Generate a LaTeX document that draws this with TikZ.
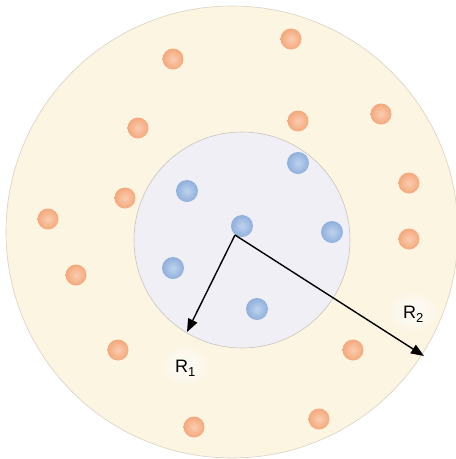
\documentclass[tikz,border=0pt]{standalone}
\usepackage{fontspec}
\setmainfont{Liberation Sans}
\usetikzlibrary{arrows.meta}
\definecolor{cream}{HTML}{FCF5E2}
\definecolor{creamedge}{HTML}{D9D2C2}
\definecolor{lav}{HTML}{F0EFF5}
\definecolor{lavedge}{HTML}{C9C3BC}
\definecolor{orin}{HTML}{FACDB2}
\definecolor{orout}{HTML}{F4A87B}
\definecolor{blin}{HTML}{BFD3EE}
\definecolor{blout}{HTML}{8FAFDB}
\tikzset{
  odot/.style={circle, minimum size=21pt, inner sep=0pt, shading=radial, inner color=orin, outer color=orout},
  bdot/.style={circle, minimum size=22pt, inner sep=0pt, shading=radial, inner color=blin, outer color=blout},
  radius arrow/.style={line width=1.4pt, -{Triangle[length=13pt,width=10pt]}},
  rlabel/.style={font=\fontsize{18}{18}\selectfont, inner sep=0pt},
  glowring/.style={fill=white, fill opacity=0.16}
}
\newcommand{\subone}[1]{\raisebox{-0.45ex}{\fontsize{13}{13}\selectfont #1}}
\newcommand{\glowat}[1]{%
  \foreach \g in {1,...,7}{\fill[glowring] #1 ellipse [x radius={26-3*\g}, y radius={22-2.6*\g}];}}
\begin{document}
\begin{tikzpicture}[x=1pt,y=-1pt]
\useasboundingbox (0,0) rectangle (456,459);
\fill[white] (0,0) rectangle (456,459);
% outer ring
\node[circle, minimum size=452pt, inner sep=0pt, fill=cream, draw=creamedge, line width=0.6pt] (outer) at (232,232) {};
% glows behind labels
\glowat{(186,366)}
\glowat{(414,312)}
% inner disc
\node[circle, minimum size=216pt, inner sep=0pt, fill=lav, draw=lavedge, line width=0.6pt] (inner) at (242,240) {};
% orange dots
\node[odot] (o1) at (291,39) {};
\node[odot] (o2) at (173,59) {};
\node[odot] (o3) at (138,128) {};
\node[odot] (o4) at (298,121) {};
\node[odot] (o5) at (381,114) {};
\node[odot] (o6) at (125,198) {};
\node[odot] (o7) at (48,219) {};
\node[odot] (o8) at (409,183) {};
\node[odot] (o9) at (409,239) {};
\node[odot] (o10) at (76,275) {};
\node[odot] (o11) at (118,350) {};
\node[odot] (o12) at (353,350) {};
\node[odot] (o13) at (194,427) {};
\node[odot] (o14) at (319,419) {};
% blue dots
\node[bdot] (b0) at (242,226) {};
\node[bdot] (b1) at (187,191) {};
\node[bdot] (b2) at (298,163) {};
\node[bdot] (b3) at (332,232) {};
\node[bdot] (b4) at (173,268) {};
\node[bdot] (b5) at (257,309) {};
% radii
\coordinate (c) at (235,235);
\coordinate (r1end) at (187,332);
\coordinate (r2end) at (424,356);
\draw[radius arrow] (c) -- (r1end);
\draw[radius arrow] (c) -- (r2end);
% labels
\node[rlabel, anchor=base west] (l1) at (175,372) {R\subone{1}};
\node[rlabel, anchor=base west] (l2) at (403,318) {R\subone{2}};
\end{tikzpicture}
\end{document}
